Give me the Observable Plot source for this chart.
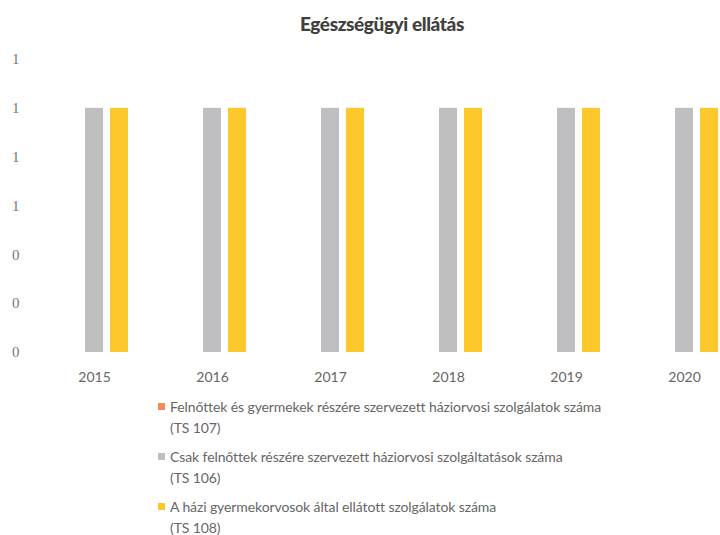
<!DOCTYPE html>
<html>
<head>
<meta charset="utf-8">
<script src="https://cdn.jsdelivr.net/npm/d3@7"></script>
<script src="https://cdn.jsdelivr.net/npm/@observablehq/plot@0.6"></script>
<style>
  html, body { margin: 0; padding: 0; background: #fff; overflow: hidden; }
  #wrap { position: relative; width: 720px; height: 535px; overflow: hidden; }
  #title { position: absolute; top: 12px; left: 0; width: 720px; padding-left: 44px; box-sizing: border-box;
    text-align: center; font-family: Lato, sans-serif; font-weight: 900; font-size: 19px; color: #404040; letter-spacing: -0.4px; }
  #chart { position: absolute; top: 0; left: 0; width: 750px; }
  #chart svg { max-width: none !important; }
  #legend { position: absolute; top: 396px; left: 158px; font-family: Lato, sans-serif;
    font-size: 14px; color: #666; line-height: 21px; letter-spacing: -0.1px; }
  .item { position: relative; padding-left: 12px; margin-bottom: 8px; }
  .sw { position: absolute; left: 0; top: 7px; width: 7px; height: 7px; }
  #chart svg [aria-label^="y-axis"] text { font-family: "Liberation Serif", serif; font-size: 15px; fill: #777; }
</style>
</head>
<body>
<div id="wrap">
  <div id="chart"></div>
  <div id="title">Egészségügyi ellátás</div>
  <div id="legend"></div>
</div>
<script>
const years = ["2015", "2016", "2017", "2018", "2019", "2020"];
const seriesNames = [
  "Felnőttek és gyermekek részére szervezett háziorvosi szolgálatok száma|(TS 107)",
  "Csak felnőttek részére szervezett háziorvosi szolgáltatások száma|(TS 106)",
  "A házi gyermekorvosok által ellátott szolgálatok száma|(TS 108)"
];
const ts107 = [0, 0, 0, 0, 0, 0];
const ts106 = [1, 1, 1, 1, 1, 1];
const ts108 = [1, 1, 1, 1, 1, 1];
const yTicks = [0, 0.2, 0.4, 0.6, 0.8, 1.0, 1.2];
const colors = ["#F48A5E", "#BFBFC2", "#FCC82C"];

const seriesValues = [ts107, ts106, ts108];
const data = years.flatMap((yr, i) => seriesNames.map((s, j) => ({year: yr, series: s, value: seriesValues[j][i]})));

const plot = Plot.plot({
  width: 750,
  height: 400,
  marginTop: 59,
  marginBottom: 48,
  marginLeft: 33,
  marginRight: 5,
  style: {fontFamily: "Lato, sans-serif", fontSize: "14px", color: "#666", background: "transparent"},
  fx: {domain: years, padding: 0, label: null, axis: "bottom", tickSize: 0, tickPadding: 20},
  x: {domain: seriesNames, axis: null, paddingInner: 0.27, paddingOuter: 0.92},
  y: {domain: [0, 1.2], ticks: yTicks, tickFormat: d3.format(".0f"), tickSize: 0, tickPadding: 16, label: null},
  color: {domain: seriesNames, range: colors},
  marks: [
    Plot.barY(data, {fx: "year", x: "series", y: "value", fill: "series"})
  ]
});
document.getElementById("chart").appendChild(plot);

const legend = document.getElementById("legend");
seriesNames.forEach((s, j) => {
  const item = document.createElement("div");
  item.className = "item";
  const sw = document.createElement("span");
  sw.className = "sw";
  sw.style.background = colors[j];
  item.appendChild(sw);
  s.split("|").forEach(line => {
    const d = document.createElement("div");
    d.textContent = line;
    item.appendChild(d);
  });
  legend.appendChild(item);
});
</script>
</body>
</html>
